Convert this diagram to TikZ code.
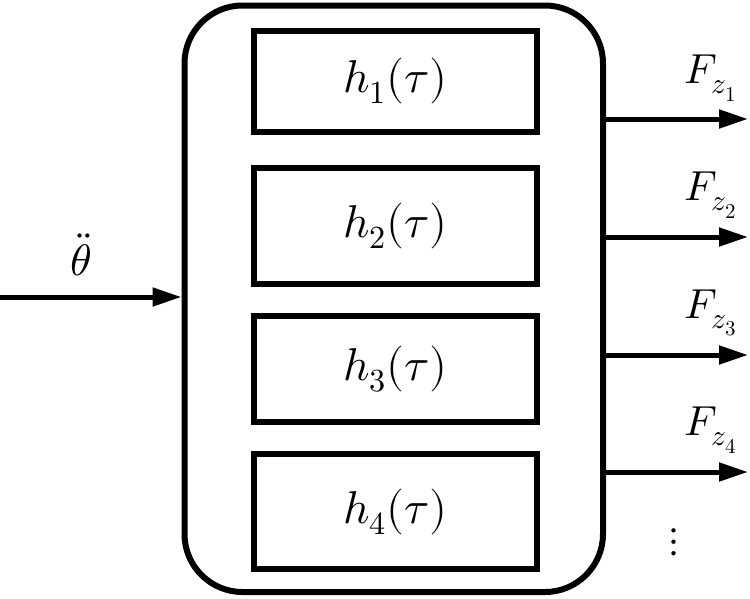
\documentclass[tikz,border=0pt]{standalone}
\usepackage{unicode-math}
\setmathfont{Latin Modern Math}
\usetikzlibrary{arrows.meta}
\begin{document}
\begin{tikzpicture}[x=1pt,y=-1pt,
  outerbox/.style={draw,line width=6pt,rounded corners=58pt,inner sep=0pt,minimum width=418.5pt,minimum height=586.5pt},
  hbox/.style={draw,line width=6pt,inner sep=0pt,minimum width=283.5pt,font=\fontsize{46}{50}\selectfont},
  arr/.style={line width=5pt,-{Triangle[length=29pt,width=18pt]}},
  flabel/.style={inner sep=0pt,font=\fontsize{42}{46}\selectfont}
]
\useasboundingbox (0,0) rectangle (750,598);
\node[outerbox] (outer) at (393.75,298.75) {};
\node[hbox,minimum height=101pt] (h1) at (395.25,81) {$h_1(\tau)$};
\node[hbox,minimum height=116pt] (h2) at (395.25,226) {$h_2(\tau)$};
\node[hbox,minimum height=106pt] (h3) at (395.25,369) {$h_3(\tau)$};
\node[hbox,minimum height=115pt] (h4) at (395.25,511.5) {$h_4(\tau)$};
\coordinate (in) at (0,297);
\draw[arr] (in) -- (in -| outer.west);
\node[inner sep=0pt,font=\fontsize{44}{48}\selectfont] (theta) at (81,255) {$\ddot{\theta}$};
\coordinate (o1) at (748,119);
\coordinate (o2) at (748,237);
\coordinate (o3) at (748,355);
\coordinate (o4) at (748,472);
\draw[arr] (o1 -| outer.east) -- (o1);
\draw[arr] (o2 -| outer.east) -- (o2);
\draw[arr] (o3 -| outer.east) -- (o3);
\draw[arr] (o4 -| outer.east) -- (o4);
\node[flabel] (f1) at (711,78) {$F_{z_1}$};
\node[flabel] (f2) at (711,195) {$F_{z_2}$};
\node[flabel] (f3) at (711,313) {$F_{z_3}$};
\node[flabel] (f4) at (711,430) {$F_{z_4}$};
\node[inner sep=0pt,font=\fontsize{41}{45}\selectfont] (dots) at (674,542) {$\vdots$};
\end{tikzpicture}
\end{document}
